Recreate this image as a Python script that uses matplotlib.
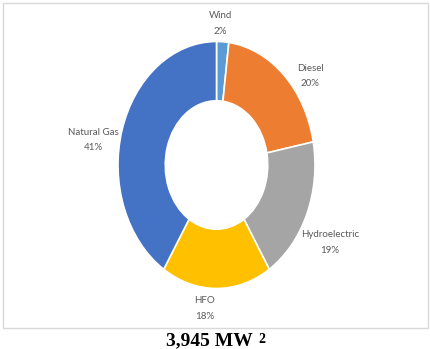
import matplotlib.pyplot as plt
from matplotlib.patches import Rectangle

# Installed capacity shares by source
sources = ['Wind', 'Diesel', 'Hydroelectric', 'HFO', 'Natural Gas']
shares = [2, 20, 19, 18, 41]
colors = ['#5B9BD5', '#ED7D31', '#A5A5A5', '#FFC000', '#4472C4']
total_label = '3,945 MW'
note_mark = '2'

W, H = 431, 349
fig = plt.figure(figsize=(W / 100, H / 100), dpi=100)
fig.patch.set_facecolor('white')

# light frame round the chart area
fig.patches.append(Rectangle((3 / W, 21 / H), 425 / W, 325 / H,
                             transform=fig.transFigure, fill=False,
                             edgecolor='#D9D9D9', linewidth=1.0))

# donut, stretched vertically (axes not square)
cx, cy, rx, ry = 216.5, 165, 98.5, 123.5
ax = fig.add_axes([(cx - rx) / W, (H - cy - ry) / H, 2 * rx / W, 2 * ry / H])
wedges, _ = ax.pie(shares, colors=colors, startangle=90, counterclock=False,
                   radius=1.0, wedgeprops=dict(width=0.48, edgecolor='white', linewidth=1.2))
ax.set_aspect('auto')
ax.set_xlim(-1, 1)
ax.set_ylim(-1, 1)
ax.axis('off')

# label positions in data units of the donut axes
label_pos = {
    'Wind': (0.036, 1.146),
    'Diesel': (0.95, 0.72),
    'Hydroelectric': (1.152, -0.628),
    'HFO': (-0.117, -1.162),
    'Natural Gas': (-1.254, 0.20),
}
for name, val in zip(sources, shares):
    x, y = label_pos[name]
    ax.text(x, y, f'{name}\n{val}%', ha='center', va='center', fontsize=7,
            color='#595959', family='Lato', linespacing=1.9)

# total capacity caption below the frame, with its note mark
fig.text(209 / W, 4 / H, total_label, ha='center', va='baseline',
         fontsize=14, fontweight='bold', family='Liberation Serif', color='black')
fig.text(258 / W, 16 / H, note_mark, ha='left', va='top',
         fontsize=10, fontweight='bold', family='Liberation Serif', color='black')

fig.savefig('out.png', dpi=100)
